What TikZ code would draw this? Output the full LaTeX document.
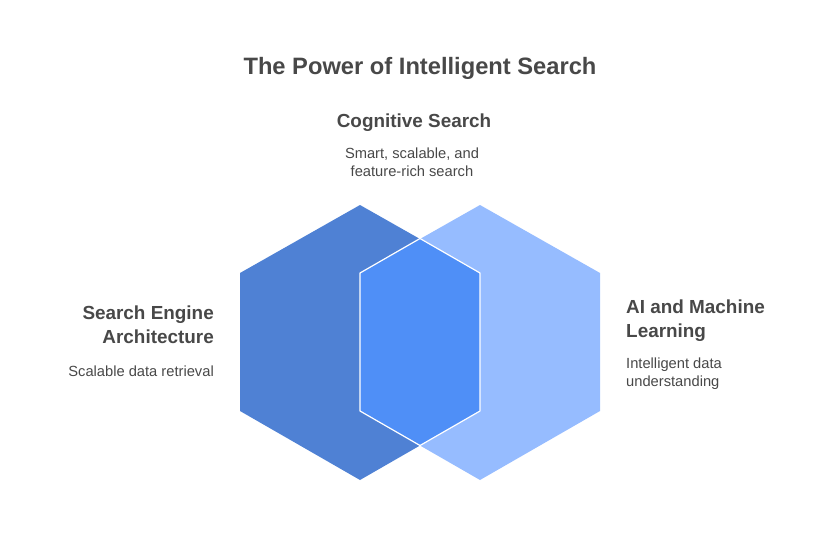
\documentclass[tikz,border=0pt]{standalone}
\usepackage{fontspec}
\setmainfont{Liberation Sans}
\definecolor{hexleft}{HTML}{4F81D4}
\definecolor{hexright}{HTML}{96BCFF}
\definecolor{hexmid}{HTML}{4F8FF7}
\definecolor{inktext}{HTML}{484848}
\tikzset{
  headtext/.style={text=inktext,inner sep=0pt,font=\fontsize{18.9}{24}\selectfont\bfseries},
  bodytext/.style={text=inktext,inner sep=0pt,font=\fontsize{14.7}{18}\selectfont}
}
\begin{document}
\begin{tikzpicture}[x=1pt,y=-1pt]
    \useasboundingbox (0,0) rectangle (840,541);
    \fill[hexleft] (360,205) -- (480,273) -- (480,411) -- (360,480) -- (240,411) -- (240,273) -- cycle;
    \fill[hexright] (480,205) -- (600,273) -- (600,411) -- (480,480) -- (360,411) -- (360,273) -- cycle;
    \draw[fill=hexmid,draw=white,line width=1.2pt,line join=round] (420,238.5) -- (480,273) -- (480,411) -- (420,445.5) -- (360,411) -- (360,273) -- cycle;
    \node[text=inktext,inner sep=0pt,font=\fontsize{23.7}{30}\selectfont\bfseries] (title) at (420,68) {The Power of Intelligent Search};
    \node[headtext] (cogHead) at (414,123) {Cognitive Search};
    \node[bodytext,align=center] (cogBody) at (412,162.5) {Smart, scalable, and\\feature-rich search};
    \node[headtext,align=right,anchor=north east] (engHead) at (214,306) {Search Engine\\Architecture};
    \node[bodytext,anchor=east] (engBody) at (214,371) {Scalable data retrieval};
    \node[headtext,align=left,anchor=north west] (aiHead) at (626,300) {AI and Machine\\Learning};
    \node[bodytext,align=left,anchor=north west] (aiBody) at (626,358) {Intelligent data\\understanding};
\end{tikzpicture}
\end{document}
